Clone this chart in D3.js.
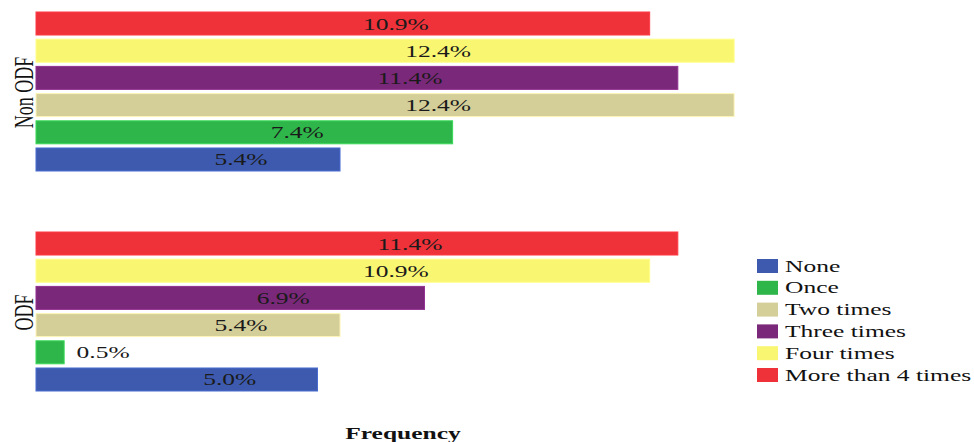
<!DOCTYPE html>
<html>
<head>
<meta charset="utf-8">
<script src="https://cdn.jsdelivr.net/npm/d3@7"></script>
<style>
  html, body { margin: 0; padding: 0; background: #fff; }
  svg { display: block; }
</style>
</head>
<body>
<svg id="chart" width="974" height="442"></svg>
<script>
// Groups (top to bottom) and frequency series (legend order)
const groups = ["Non ODF", "ODF"];
const series = ["None", "Once", "Two times", "Three times", "Four times", "More than 4 times"];
const colors = ["#3d5aae", "#2fb64a", "#d4ce99", "#7a2879", "#f9f672", "#ef3139"];
// Percentages per series, same order as `series`
const nonOdfValues = [5.4, 7.4, 12.4, 11.4, 12.4, 10.9];
const odfValues = [5.0, 0.5, 5.4, 6.9, 10.9, 11.4];
const xTitle = "Frequency";

const valuesByGroup = { "Non ODF": nonOdfValues, "ODF": odfValues };
const rows = [];
groups.forEach(g => series.forEach((s, i) => rows.push({ group: g, series: s, value: valuesByGroup[g][i], color: colors[i] })));

const svg = d3.select("#chart");
const STRETCH = 1.5; // horizontal text stretch
const serif = "'Liberation Serif', 'Times New Roman', serif";

const x = d3.scaleLinear().domain([0, 13]).range([36, 36 + 13 * 56.3]);
const y = d3.scaleBand().domain(groups).range([12, 391]).paddingInner(0.2773).paddingOuter(0);
// Bars within a group: largest frequency category on top
const yInner = d3.scaleBand().domain(series.slice().reverse()).range([0, y.bandwidth()]).paddingInner(0.154).paddingOuter(0);

const bars = svg.append("g");
bars.selectAll("rect").data(rows).join("rect")
  .attr("x", x(0))
  .attr("y", d => y(d.group) + yInner(d.series))
  .attr("width", d => x(d.value) - x(0))
  .attr("height", yInner.bandwidth())
  .attr("fill", d => d.color)
  .attr("stroke", d => d3.color(d.color).brighter(0.5))
  .attr("stroke-width", 1);

// Value labels
bars.selectAll("text").data(rows).join("text")
  .attr("transform", d => `translate(${x(d.value / 2) + 53},${y(d.group) + yInner(d.series) + yInner.bandwidth() / 2 + 6}) scale(${STRETCH},1)`)
  .attr("text-anchor", "middle")
  .attr("font-family", serif)
  .attr("font-size", 17)
  .attr("fill", "#1a1a1a")
  .text(d => d.value.toFixed(1) + "%");

// Group labels (rotated; glyph height stretched like the horizontal text)
svg.append("g").selectAll("text").data(groups).join("text")
  .attr("transform", d => `translate(33,${y(d) + y.bandwidth() / 2 + 1}) rotate(-90) scale(1,${STRETCH})`)
  .attr("text-anchor", "middle")
  .attr("font-family", serif)
  .attr("font-size", 18)
  .attr("fill", "#111")
  .text(d => d);

// Axis title
svg.append("text")
  .attr("transform", `translate(403,439) scale(${STRETCH},1)`)
  .attr("text-anchor", "middle")
  .attr("font-family", serif)
  .attr("font-weight", "bold")
  .attr("font-size", 17)
  .attr("fill", "#111")
  .text(xTitle);

// Legend
const legend = svg.append("g").attr("transform", "translate(757,259)");
const item = legend.selectAll("g").data(series).join("g")
  .attr("transform", (d, i) => `translate(0,${i * 21.8})`);
item.append("rect")
  .attr("width", 21).attr("height", 14)
  .attr("fill", (d, i) => colors[i]);
item.append("text")
  .attr("transform", `translate(28,12.5) scale(${STRETCH},1)`)
  .attr("font-family", serif)
  .attr("font-size", 17)
  .attr("fill", "#111")
  .text(d => d);
</script>
</body>
</html>
